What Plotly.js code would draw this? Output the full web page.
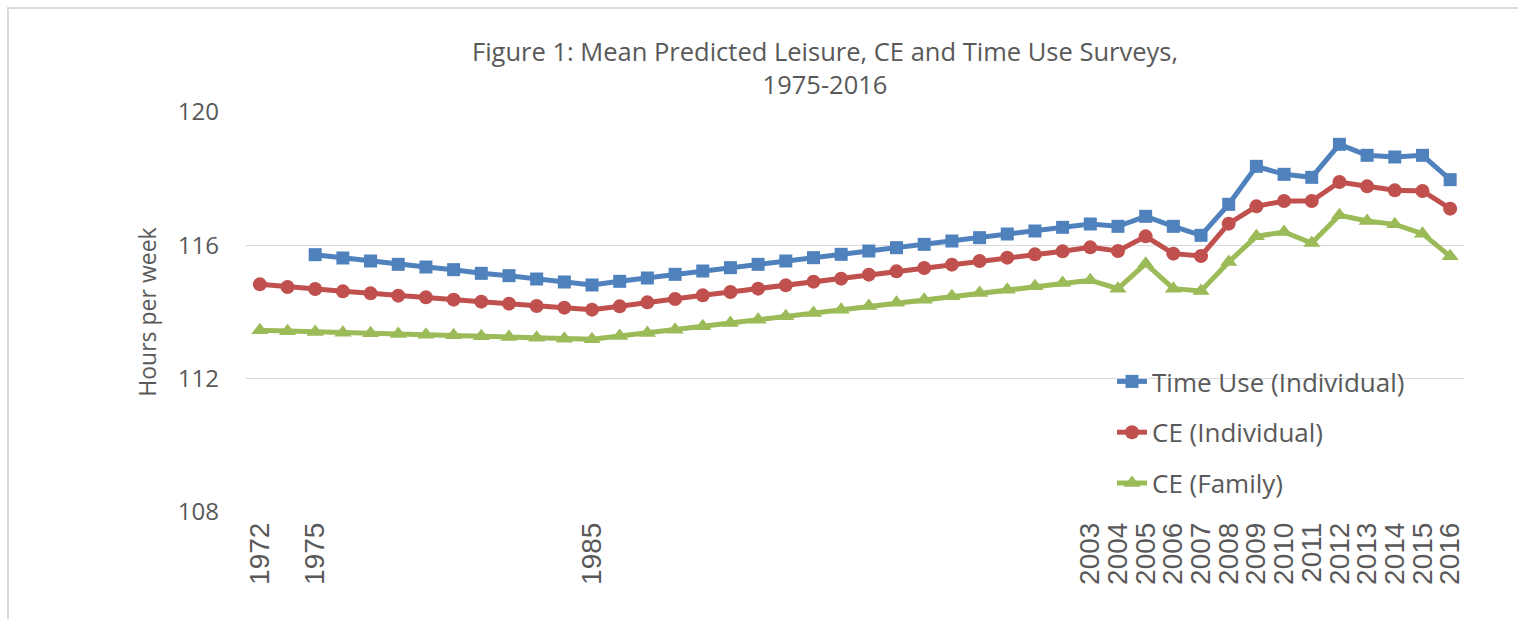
<!DOCTYPE html>
<html>
<head>
<meta charset="utf-8">
<script src="https://cdn.plot.ly/plotly-3.0.1.min.js"></script>
<style>
  html, body { margin: 0; padding: 0; background: #fff; }
  #chart { width: 1518px; height: 619px; }
  #frame { position: absolute; left: 7px; top: 7px; width: 1600px; height: 700px;
           border-left: 2px solid #d9d9d9; border-top: 2px solid #d9d9d9; pointer-events: none; }
</style>
</head>
<body>
<div id="chart"></div>
<div id="frame"></div>
<script>
// Category tick labels (unlabelled categories kept as empty strings); 1985 is index 12, 2003 index 30
const categoryLabels = ['1972','','1975','','','','','','','','','','1985',
  '','','','','','','','','','','','','','','','','',
  '2003','2004','2005','2006','2007','2008','2009','2010','2011','2012','2013','2014','2015','2016'];

const timeUse = [null, null,
  115.72,115.62,115.53,115.43,115.35,115.27,115.16,115.09,114.99,114.90,114.81,
  114.92,115.02,115.13,115.23,115.33,115.43,115.53,115.63,115.73,115.83,115.93,
  116.03,116.13,116.23,116.34,116.43,116.54,116.64,116.57,116.87,116.57,116.30,
  117.23,118.37,118.13,118.04,119.03,118.70,118.65,118.70,117.97];

const ceIndividual = [114.83,114.75,114.69,114.62,114.56,114.49,114.44,114.37,114.31,
  114.25,114.18,114.13,114.07,114.17,114.29,114.39,114.50,114.60,114.70,114.80,
  114.91,115.00,115.12,115.22,115.32,115.42,115.53,115.63,115.73,115.82,115.94,
  115.83,116.27,115.75,115.68,116.65,117.17,117.33,117.33,117.90,117.77,117.65,
  117.63,117.10];

const ceFamily = [113.45,113.42,113.40,113.38,113.36,113.34,113.32,113.30,113.27,
  113.25,113.23,113.20,113.18,113.28,113.37,113.47,113.57,113.67,113.77,113.87,
  113.97,114.07,114.18,114.28,114.37,114.47,114.57,114.67,114.77,114.87,114.95,
  114.70,115.45,114.70,114.63,115.50,116.27,116.40,116.07,116.90,116.73,116.63,
  116.35,115.67];

const seriesNames = ['Time Use (Individual)', 'CE (Individual)', 'CE (Family)'];

const idx = categoryLabels.map((_, i) => i);
const labelFont = '"Open Sans", "Liberation Sans", sans-serif';

const traces = [
  { x: idx, y: timeUse, name: seriesNames[0], legendgroup: 'a', mode: 'lines+markers',
    line: { color: '#4F81BD', width: 5 }, marker: { symbol: 'square', size: 13, color: '#4F81BD' } },
  { x: idx, y: ceIndividual, name: seriesNames[1], legendgroup: 'b', mode: 'lines+markers',
    line: { color: '#C0504D', width: 5 }, marker: { symbol: 'circle', size: 14, color: '#C0504D' } },
  { x: idx, y: ceFamily, name: seriesNames[2], legendgroup: 'c', mode: 'lines+markers',
    line: { color: '#9BBB59', width: 5 }, marker: { symbol: 'triangle-up', size: 15, color: '#9BBB59' } }
];

const layout = {
  width: 1518, height: 619,
  margin: { l: 246, r: 54, t: 112, b: 107 },
  paper_bgcolor: '#ffffff', plot_bgcolor: '#ffffff',
  title: {
    text: 'Figure 1: Mean Predicted Leisure, CE and Time Use Surveys,<br>1975-2016',
    font: { family: labelFont, size: 25.5, color: '#595959' },
    x: 825 / 1518, xanchor: 'center', xref: 'container',
    y: 1 - 61 / 619, yanchor: 'top', yref: 'container'
  },
  xaxis: {
    range: [-0.5, categoryLabels.length - 0.5],
    tickmode: 'array', tickvals: idx, ticktext: categoryLabels,
    tickangle: -90, showgrid: false, zeroline: false, showline: false, ticks: '',
    ticklabelstandoff: 4,
    tickfont: { family: '"Liberation Sans", Arial, sans-serif', size: 28, color: '#595959' },
    automargin: false
  },
  yaxis: {
    range: [108, 120], tickvals: [108, 112, 116, 120],
    showgrid: true, gridcolor: '#D9D9D9', gridwidth: 1.5, zeroline: false, showline: false, ticks: '',
    ticklabelstandoff: 26,
    tickfont: { family: labelFont, size: 24, color: '#595959' },
    title: { text: 'Hours per week', font: { family: labelFont, size: 23, color: '#595959' }, standoff: 14 },
    automargin: false
  },
  showlegend: true,
  legend: {
    x: (1112 - 246) / 1218, xanchor: 'left',
    y: (512 - 358) / 400, yanchor: 'top',
    bgcolor: 'rgba(0,0,0,0)', tracegroupgap: 14,
    font: { family: labelFont, size: 26, color: '#595959' }
  }
};

Plotly.newPlot('chart', traces, layout, { displayModeBar: false, staticPlot: true });
</script>
</body>
</html>
